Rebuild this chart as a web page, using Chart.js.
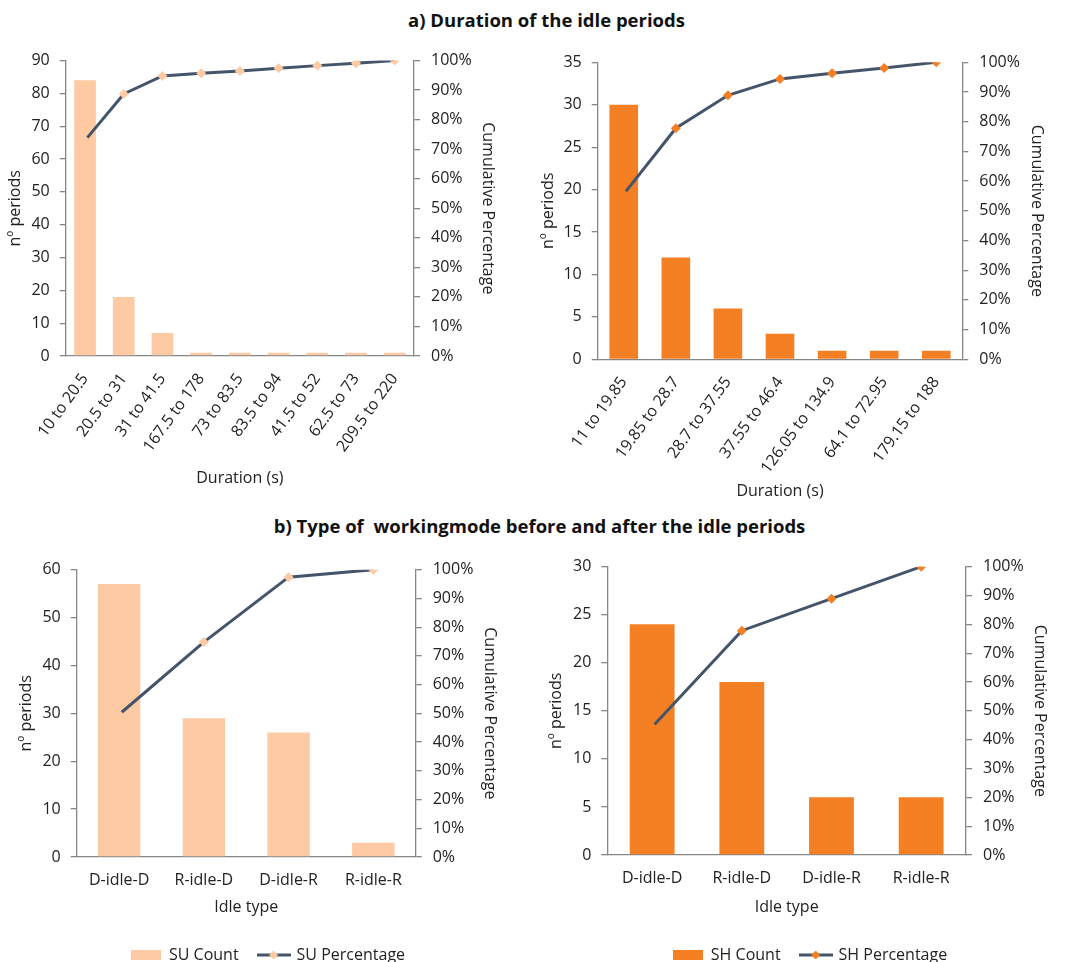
<!DOCTYPE html>
<html>
<head>
<meta charset="utf-8">
<script src="https://cdn.jsdelivr.net/npm/chart.js@4.4.1/dist/chart.umd.min.js"></script>
<style>
  html, body { margin: 0; padding: 0; background: #fff; overflow: hidden; }
  body { width: 1071px; height: 962px; position: relative; font-family: 'Open Sans', sans-serif; }
  .title { position: absolute; width: 1071px; text-align: center; font-weight: bold; font-size: 18.5px; color: #111; }
  canvas { position: absolute; }
</style>
</head>
<body>
<div class="title" style="left:11px;top:7px">a) Duration of the idle periods</div>
<div class="title" style="left:4px;top:513px">b) Type of&nbsp; workingmode before and after the idle periods</div>
<canvas id="suDuration" width="510" height="460" style="left:0;top:40px"></canvas>
<canvas id="shDuration" width="541" height="470" style="left:530px;top:40px"></canvas>
<canvas id="suType" width="536" height="433" style="left:0;top:540px"></canvas>
<canvas id="shType" width="560" height="433" style="left:530px;top:540px"></canvas>
<script>
// a) duration of the idle periods
const suDurLabels = ['10 to 20.5', '20.5 to 31', '31 to 41.5', '167.5 to 178', '73 to 83.5', '83.5 to 94', '41.5 to 52', '62.5 to 73', '209.5 to 220']
const suDurCount = [84, 18, 7, 1, 1, 1, 1, 1, 1]
const suDurPct = [73.0, 88.7, 94.8, 95.7, 96.5, 97.4, 98.3, 99.1, 100]

const shDurLabels = ['11 to 19.85', '19.85 to 28.7', '28.7 to 37.55', '37.55 to 46.4', '126.05 to 134.9', '64.1 to 72.95', '179.15 to 188']
const shDurCount = [30, 12, 6, 3, 1, 1, 1]
const shDurPct = [55.6, 77.8, 88.9, 94.4, 96.3, 98.1, 100]

// b) type of working mode before / after
const idleTypes = ['D-idle-D', 'R-idle-D', 'D-idle-R', 'R-idle-R']
const suTypeCount = [57, 29, 26, 3]
const suTypePct = [49.6, 74.8, 97.4, 100]
const shTypeCount = [24, 18, 6, 6]
const shTypePct = [44.4, 77.8, 88.9, 100]

const PEACH = '#FDCAA4'
const ORANGE = '#F58024'
const NAVY = '#44546A'
const AXIS = '#868686'

Chart.defaults.font.family = "'Open Sans', sans-serif"
Chart.defaults.font.size = 16
Chart.defaults.color = '#222'

function barSwatch (color) {
  const c = document.createElement('canvas')
  c.width = 30
  c.height = 10
  const g = c.getContext('2d')
  g.fillStyle = color
  g.fillRect(0, 0, 30, 10)
  return c
}

function lineSwatch (color) {
  const c = document.createElement('canvas')
  c.width = 34
  c.height = 12
  const g = c.getContext('2d')
  g.strokeStyle = NAVY
  g.lineWidth = 3
  g.beginPath()
  g.moveTo(0, 6)
  g.lineTo(34, 6)
  g.stroke()
  g.fillStyle = color
  g.beginPath()
  g.moveTo(17, 1.5)
  g.lineTo(21.5, 6)
  g.lineTo(17, 10.5)
  g.lineTo(12.5, 6)
  g.closePath()
  g.fill()
  return c
}

function pareto (id, p) {
  const swatches = [barSwatch(p.color), lineSwatch(p.color)]
  return new Chart(document.getElementById(id), {
    data: {
      labels: p.labels,
      datasets: [
        {
          type: 'bar',
          label: p.name + ' Count',
          data: p.count,
          backgroundColor: p.color,
          yAxisID: 'y',
          order: 2,
          categoryPercentage: 1,
          barPercentage: p.barPct
        },
        {
          type: 'line',
          label: p.name + ' Percentage',
          data: p.pct,
          yAxisID: 'y1',
          order: 1,
          borderColor: NAVY,
          borderWidth: 3,
          tension: 0,
          pointStyle: 'rectRot',
          pointRadius: 5,
          pointBorderWidth: 0,
          pointBackgroundColor: p.color,
          pointBorderColor: p.color
        }
      ]
    },
    options: {
      responsive: false,
      animation: false,
      layout: { padding: { top: p.top, left: 0, right: 0, bottom: 0 } },
      plugins: {
        tooltip: { enabled: false },
        legend: {
          display: p.legend,
          position: 'bottom',
          labels: {
            usePointStyle: true,
            pointStyleWidth: 30,
            padding: 20,
            font: { size: 16 },
            generateLabels (chart) {
              const items = Chart.defaults.plugins.legend.labels.generateLabels(chart)
              items.sort((a, b) => a.datasetIndex - b.datasetIndex)
              items.forEach(it => { it.pointStyle = swatches[it.datasetIndex] })
              return items
            }
          }
        }
      },
      scales: {
        x: {
          grid: { display: false, drawTicks: false },
          border: { color: AXIS, width: 1.3 },
          ticks: {
            autoSkip: false,
            minRotation: p.rot,
            maxRotation: p.rot,
            padding: p.xPad
          },
          title: { display: true, text: p.xTitle, padding: { top: 0, bottom: p.xTitlePad } },
          afterFit (s) { s.height = p.xH }
        },
        y: {
          position: 'left',
          min: 0,
          max: p.yMax,
          ticks: { stepSize: p.yStep, padding: 10 },
          grid: { drawOnChartArea: false, tickLength: 6, color: AXIS, lineWidth: 1.3 },
          border: { color: AXIS, width: 1.3 },
          title: { display: true, text: 'nº periods', padding: { top: p.yTitlePad, bottom: 0 } },
          afterFit (s) { s.width = p.leftW }
        },
        y1: {
          position: 'right',
          min: 0,
          max: 100,
          ticks: { stepSize: 10, padding: 11, callback: v => v + '%' },
          grid: { drawOnChartArea: false, tickLength: 6, color: AXIS, lineWidth: 1.3 },
          border: { color: AXIS, width: 1.3 },
          title: { display: true, text: 'Cumulative Percentage', padding: { top: p.y1TitlePad, bottom: 0 } },
          afterFit (s) { s.width = p.rightW }
        }
      }
    }
  })
}

pareto('suDuration', {
  name: 'SU', color: PEACH, labels: suDurLabels, count: suDurCount, pct: suDurPct,
  yMax: 90, yStep: 10, barPct: 0.56, rot: 54, xPad: 14, xTitle: 'Duration (s)', legend: false,
  top: 19.7, leftW: 65.7, rightW: 96, xH: 144, xTitlePad: 12.4, yTitlePad: 5.4, y1TitlePad: 12.4
})

pareto('shDuration', {
  name: 'SH', color: ORANGE, labels: shDurLabels, count: shDurCount, pct: shDurPct,
  yMax: 35, yStep: 5, barPct: 0.55, rot: 54, xPad: 14, xTitle: 'Duration (s)', legend: false,
  top: 22.3, leftW: 67.7, rightW: 108.7, xH: 150.7, xTitlePad: 8.7, yTitlePad: 8.4, y1TitlePad: 24.6
})

pareto('suType', {
  name: 'SU', color: PEACH, labels: idleTypes, count: suTypeCount, pct: suTypePct,
  yMax: 60, yStep: 10, barPct: 0.5, rot: 0, xPad: 14, xTitle: 'Idle type', legend: true,
  top: 29.7, leftW: 76.7, rightW: 120.3, xH: 70, xTitlePad: 9.6, yTitlePad: 17.1, y1TitlePad: 36.4
})

pareto('shType', {
  name: 'SH', color: ORANGE, labels: idleTypes, count: shTypeCount, pct: shTypePct,
  yMax: 30, yStep: 5, barPct: 0.5, rot: 0, xPad: 14, xTitle: 'Idle type', legend: true,
  top: 26.7, leftW: 77.3, rightW: 124, xH: 72, xTitlePad: 9.6, yTitlePad: 17.1, y1TitlePad: 40.4
})
</script>
</body>
</html>
